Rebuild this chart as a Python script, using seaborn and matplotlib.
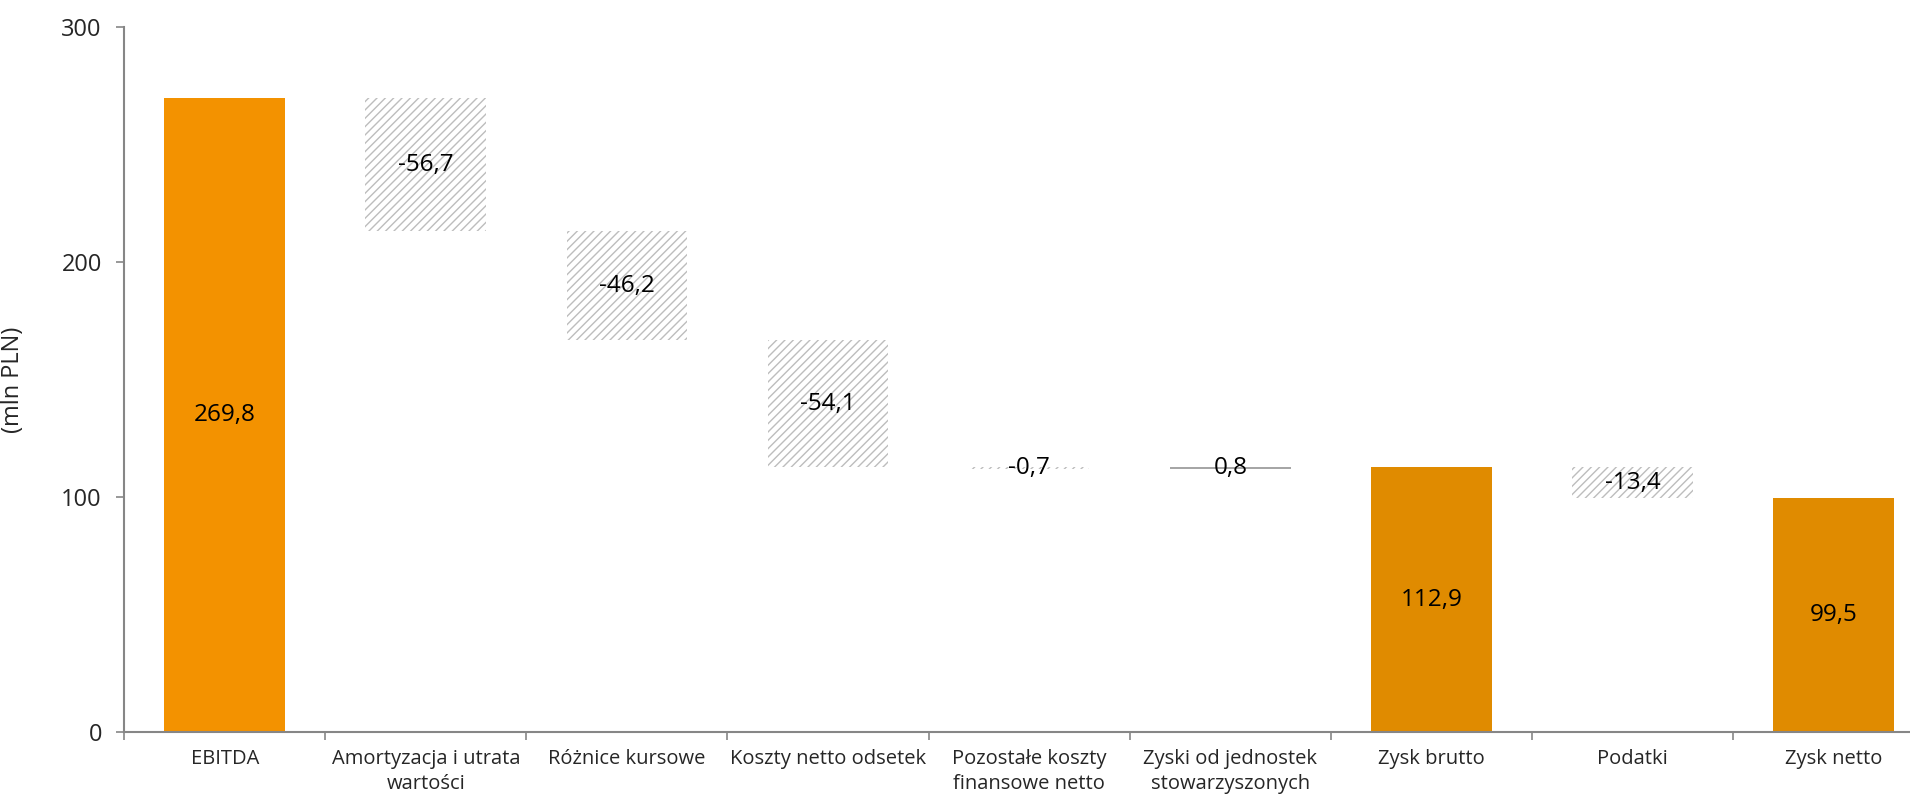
import numpy as np
import matplotlib.pyplot as plt
import seaborn as sns

categories = ["EBITDA", "Amortyzacja i utrata\nwartości", "Różnice kursowe",
              "Koszty netto odsetek", "Pozostałe koszty\nfinansowe netto",
              "Zyski od jednostek\nstowarzyszonych", "Zysk brutto", "Podatki",
              "Zysk netto"]
values = [269.8, -56.7, -46.2, -54.1, -0.7, 0.8, 112.9, -13.4, 99.5]
kinds = ["total", "step", "step", "step", "step", "step", "total", "step", "total"]
labels = ["269,8", "-56,7", "-46,2", "-54,1", "-0,7", "0,8", "112,9", "-13,4", "99,5"]

sns.set_theme(style="white")
plt.rcParams["font.family"] = ["Open Sans", "DejaVu Sans"]
plt.rcParams["hatch.linewidth"] = 1.0

fig = plt.figure(figsize=(19.1, 8.02), dpi=100)
ax = fig.add_axes([0.065, 0.087, 0.935, 0.879])

grey = "#868686"
level = 0.0
x = np.arange(len(categories))
for i, (v, k) in enumerate(zip(values, kinds)):
    if k == "total":
        color = "#F39200" if i == 0 else "#E08B00"
        ax.bar(i, v, width=0.6, color=color, linewidth=0)
        mid = v / 2
        level = v
    else:
        bottom = level + min(v, 0)
        if v < 0:
            ax.bar(i, abs(v), bottom=bottom, width=0.6, facecolor="white",
                   edgecolor="#BDBDBD", hatch="////", linewidth=0)
        else:
            ax.bar(i, max(abs(v), 0.5), bottom=bottom, width=0.6,
                   color="#A6A6A6", linewidth=0)
        mid = bottom + abs(v) / 2
        level += v
    ax.text(i, mid, labels[i], ha="center", va="center", fontsize=17.5,
            color="black")

# the right edge of the original picture cuts off part of the last band
ax.set_xlim(-0.5, len(categories) - 0.62)
ax.set_ylim(0, 300)
ax.set_yticks([0, 100, 200, 300])
ax.set_xticks(x)
ax.set_xticklabels(categories, fontsize=14.5, linespacing=1.35)
ax.set_xticks(np.arange(-0.5, len(categories) - 1, 1), minor=True)
ax.tick_params(axis="x", which="major", length=0, pad=12)
ax.tick_params(axis="x", which="minor", length=6, width=1.2, color=grey,
               direction="out", bottom=True)
ax.tick_params(axis="y", length=6, width=1.2, color=grey, direction="out",
               left=True, labelsize=17, pad=10)
ax.set_ylabel("(mln PLN)", fontsize=17, labelpad=26)

for s in ["top", "right"]:
    ax.spines[s].set_visible(False)
for s in ["left", "bottom"]:
    ax.spines[s].set_color(grey)
    ax.spines[s].set_linewidth(1.5)

fig.savefig("out.png", dpi=100, facecolor="white")
